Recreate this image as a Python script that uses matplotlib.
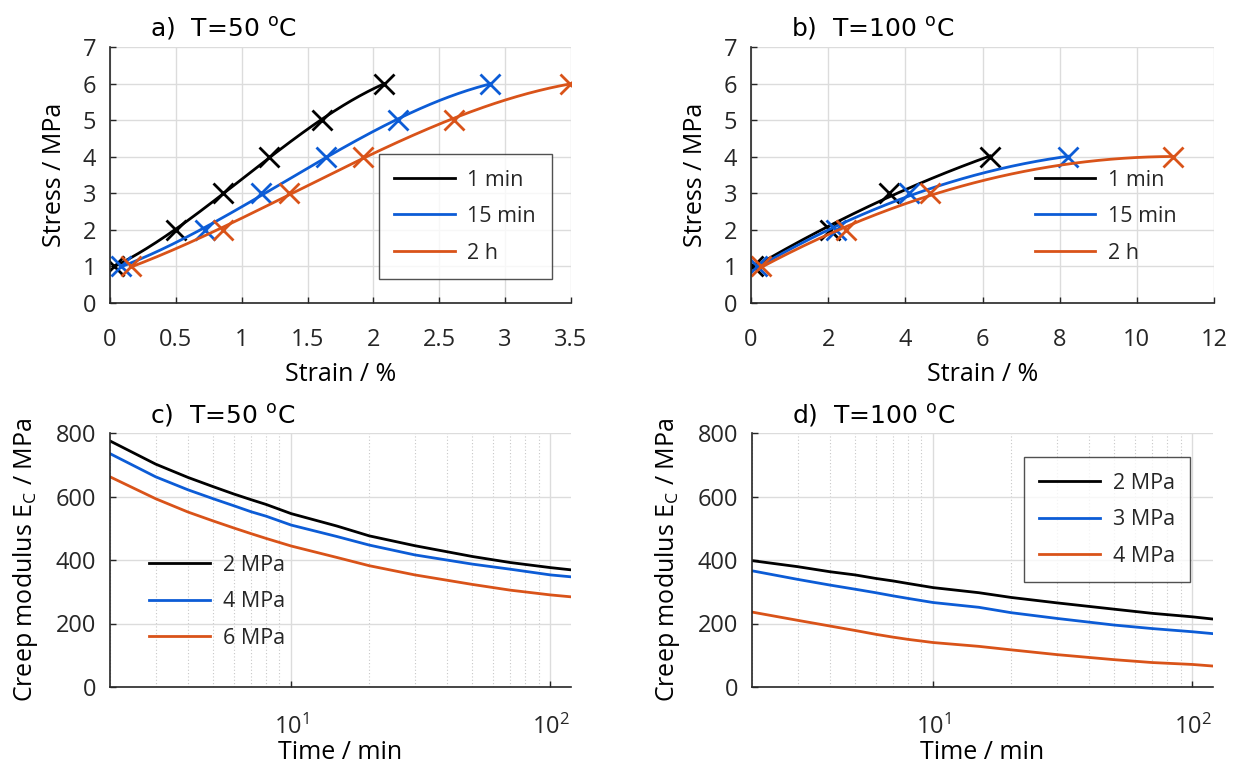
import numpy as np
import matplotlib
matplotlib.use("Agg")
import matplotlib.pyplot as plt
from matplotlib.ticker import FuncFormatter, LogLocator, NullFormatter, FixedLocator

# ---------------- data ----------------
stress_a = [1, 2, 3, 4, 5, 6]
strain_a_1min = [0.03, 0.50, 0.86, 1.21, 1.61, 2.08]
strain_a_15min = [0.08, 0.72, 1.15, 1.64, 2.19, 2.885]
strain_a_2h = [0.157, 0.855, 1.36, 1.92, 2.61, 3.49]

stress_b = [1, 2, 3, 4]
strain_b_1min = [0.05, 2.04, 3.57, 6.2]
strain_b_15min = [0.15, 2.21, 4.09, 8.22]
strain_b_2h = [0.25, 2.46, 4.65, 10.94]

time_min = [2, 3, 4, 5, 6, 7, 8, 10, 15, 20, 30, 50, 70, 100, 120]
Ec_c_2MPa = [775, 702, 660, 631, 608, 590, 575, 546, 507, 476, 445, 411, 392, 376, 369]
Ec_c_4MPa = [735, 662, 621, 593, 571, 552, 538, 510, 474, 447, 416, 387, 371, 353, 347]
Ec_c_6MPa = [662, 593, 551, 523, 501, 483, 468, 444, 408, 382, 353, 323, 305, 290, 284]

Ec_d_2MPa = [398, 379, 363, 353, 342, 334, 326, 313, 297, 282, 265, 245, 232, 221, 214]
Ec_d_3MPa = [366, 339, 321, 308, 297, 287, 279, 266, 251, 234, 216, 195, 184, 174, 168]
Ec_d_4MPa = [236, 210, 192, 178, 166, 157, 150, 140, 128, 117, 102, 86, 77, 71, 66]

labels_ab = ["1 min", "15 min", "2 h"]
labels_c = ["2 MPa", "4 MPa", "6 MPa"]
labels_d = ["2 MPa", "3 MPa", "4 MPa"]

# ---------------- style ----------------
BLACK = "#000000"
BLUE = "#0c5cd6"
ORANGE = "#d95319"
colors = [BLACK, BLUE, ORANGE]
AXC = "#262626"
FONT = "Open Sans"
TFONT = "DejaVu Sans"
TICK_FS = 17
LAB_FS = 18
LEG_FS = 15.5
TITLE_FS = 18

plt.rcParams["font.family"] = [FONT, "DejaVu Sans"]
plt.rcParams["axes.edgecolor"] = AXC
plt.rcParams["xtick.color"] = AXC
plt.rcParams["ytick.color"] = AXC
plt.rcParams["text.color"] = AXC

fig = plt.figure(figsize=(12.35, 7.75), dpi=100)

def px_axes(l, r, t, b):
    W, H = 1235.0, 775.0
    return fig.add_axes([l / W, (H - b) / H, (r - l) / W, (b - t) / H])

ax_a = px_axes(110, 571, 47, 303)
ax_b = px_axes(751, 1214, 47, 303)
ax_c = px_axes(110, 571, 433, 687)
ax_d = px_axes(752, 1213, 433, 687)

def style(ax, xpad=18):
    for s in ["top", "right"]:
        ax.spines[s].set_visible(False)
    for s in ["left", "bottom"]:
        ax.spines[s].set_linewidth(1.2)
        ax.spines[s].set_color(AXC)
    ax.tick_params(direction="in", length=4, width=1.0, labelsize=TICK_FS)
    ax.tick_params(axis="x", pad=xpad)
    ax.tick_params(axis="y", pad=10)
    ax.grid(True, which="major", color="#dcdcdc", linewidth=1.0)
    ax.set_axisbelow(True)

gfmt = FuncFormatter(lambda v, p: "%g" % v)

def legend(ax, handles, labels, x, y, frame):
    leg = ax.legend(handles, labels, loc="upper left", bbox_to_anchor=(x, y),
                    borderaxespad=0, frameon=frame, fontsize=LEG_FS,
                    handlelength=2.8, handletextpad=0.6, labelspacing=0.72,
                    borderpad=0.72, fancybox=False)
    if frame:
        leg.get_frame().set_edgecolor(AXC)
        leg.get_frame().set_linewidth(1.0)
    return leg

def title(ax, s):
    ax.text(0.087, 1.04, s, transform=ax.transAxes, fontsize=TITLE_FS,
            family=TFONT, color="black", va="baseline")

def labels(ax, xl, yl, xpad):
    ax.set_xlabel(xl, fontsize=LAB_FS, labelpad=xpad)
    ax.set_ylabel(yl, fontsize=LAB_FS, labelpad=11)

# ---------------- panels a, b ----------------
def stress_strain(ax, stress, strains, deg):
    hs = []
    for st, c in zip(strains, colors):
        coef = np.polyfit(st, stress, deg)
        xs = np.linspace(st[0], st[-1], 200)
        h, = ax.plot(xs, np.polyval(coef, xs), color=c, lw=2.0)
        ax.plot(st, stress, "x", color=c, ms=14, mew=2.0, linestyle="none")
        hs.append(h)
    return hs

style(ax_a)
hs = stress_strain(ax_a, stress_a, [strain_a_1min, strain_a_15min, strain_a_2h], 3)
ax_a.set_xlim(0, 3.5)
ax_a.set_ylim(0, 7)
ax_a.set_xticks(np.arange(0, 3.51, 0.5))
ax_a.set_yticks(range(0, 8))
ax_a.xaxis.set_major_formatter(gfmt)
labels(ax_a, "Strain / %", "Stress / MPa", 7)
legend(ax_a, hs, labels_ab, 0.583, 0.582, True)
title(ax_a, "a)  T=50 $^\\mathregular{o}$C")

style(ax_b)
hs = stress_strain(ax_b, stress_b, [strain_b_1min, strain_b_15min, strain_b_2h], 2)
ax_b.set_xlim(0, 12)
ax_b.set_ylim(0, 7)
ax_b.set_xticks(range(0, 13, 2))
ax_b.set_yticks(range(0, 8))
labels(ax_b, "Strain / %", "Stress / MPa", 7)
legend(ax_b, hs, labels_ab, 0.579, 0.582, False)
title(ax_b, "b)  T=100 $^\\mathregular{o}$C")

# ---------------- panels c, d ----------------
def creep(ax, series, labs, lx, ly, frame, ttl):
    style(ax, xpad=20)
    hs = []
    for y, c in zip(series, colors):
        h, = ax.plot(time_min, y, color=c, lw=2.0)
        hs.append(h)
    ax.set_xscale("log")
    ax.set_xlim(2, 120)
    ax.set_ylim(0, 800)
    ax.set_yticks(range(0, 801, 200))
    ax.xaxis.set_major_locator(FixedLocator([10, 100]))
    ax.xaxis.set_minor_locator(LogLocator(base=10, subs=np.arange(2, 10)))
    ax.xaxis.set_minor_formatter(NullFormatter())
    ax.tick_params(which="minor", length=0)
    ax.grid(True, which="minor", axis="x", color="#c8c8c8",
            linestyle=(0, (1, 2)), linewidth=0.8)
    labels(ax, "Time / min", "Creep modulus E$_\\mathregular{C}$ / MPa", 0)
    legend(ax, hs, labs, lx, ly, frame)
    title(ax, ttl)

creep(ax_c, [Ec_c_2MPa, Ec_c_4MPa, Ec_c_6MPa], labels_c, 0.052, 0.581, False,
      "c)  T=50 $^\\mathregular{o}$C")
creep(ax_d, [Ec_d_2MPa, Ec_d_3MPa, Ec_d_4MPa], labels_d, 0.590, 0.904, True,
      "d)  T=100 $^\\mathregular{o}$C")

fig.savefig("out.png", dpi=100)
